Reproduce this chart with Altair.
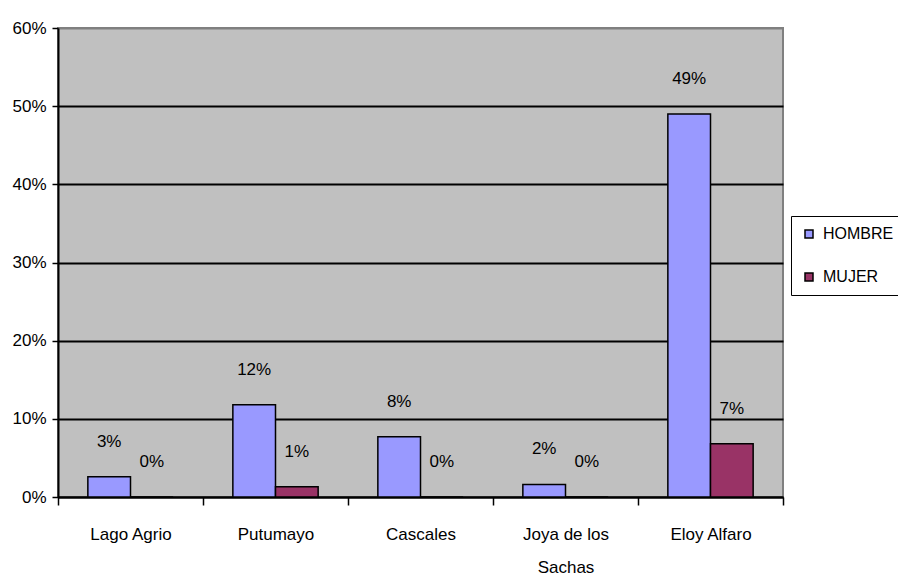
import altair as alt
import pandas as pd

categories = ["Lago Agrio", "Putumayo", "Cascales", "Joya de los Sachas", "Eloy Alfaro"]
series = ["HOMBRE", "MUJER"]
hombre = [0.026, 0.118, 0.077, 0.016, 0.490]
mujer = [0.0, 0.013, 0.0, 0.0, 0.068]
colors = ["#9999FF", "#993366"]
y_ticks = [0, 0.1, 0.2, 0.3, 0.4, 0.5, 0.6]

rows = []
for c, h, m in zip(categories, hombre, mujer):
    rows.append({"cat": c, "serie": "HOMBRE", "val": h})
    rows.append({"cat": c, "serie": "MUJER", "val": m})
df = pd.DataFrame(rows)

FONT = "Liberation Sans, Arial, sans-serif"
FS = 17

x_enc = alt.X(
    "cat:N",
    sort=categories,
    scale=alt.Scale(paddingInner=0, paddingOuter=0),
    axis=alt.Axis(
        title=None,
        labelAngle=0,
        tickBand="extent",
        tickSize=8,
        tickColor="black",
        tickWidth=1.5,
        domainColor="black",
        domainWidth=2,
        labelPadding=21,
        labelFont=FONT,
        labelFontSize=FS,
        labelColor="black",
        labelLineHeight=33,
        labelExpr="datum.label == 'Joya de los Sachas' ? ['Joya de los', 'Sachas'] : datum.label",
    ),
)
xoff = alt.XOffset("serie:N", sort=series, scale=alt.Scale(paddingInner=0, paddingOuter=0.7))
y_enc = alt.Y(
    "val:Q",
    scale=alt.Scale(domain=[0, 0.6], nice=False),
    axis=alt.Axis(
        title=None,
        values=y_ticks,
        format=".0%",
        tickSize=6,
        tickColor="black",
        tickWidth=1.5,
        domainColor="black",
        domainWidth=2,
        gridColor={"condition": {"test": "datum.value >= 0.59", "value": "#808080"}, "value": "black"},
        gridWidth=2,
        gridOpacity=1,
        labelPadding=6,
        labelFont=FONT,
        labelFontSize=FS,
        labelColor="black",
    ),
)

bars = alt.Chart(df).mark_bar(stroke="black", strokeWidth=1.5).encode(
    x=x_enc,
    xOffset=xoff,
    y=y_enc,
    color=alt.Color(
        "serie:N",
        sort=series,
        scale=alt.Scale(domain=series, range=colors),
        legend=alt.Legend(
            title=None,
            orient="none",
            legendX=733,
            legendY=188,
            direction="vertical",
            symbolType="square",
            symbolSize=64,
            symbolStrokeColor="black",
            symbolStrokeWidth=1.5,
            labelFont=FONT,
            labelFontSize=16,
            labelColor="black",
            labelOffset=6,
            rowPadding=27,
            padding=10,
            strokeColor="black",
            fillColor="white",
        ),
    ),
)

labels = alt.Chart(df).mark_text(
    dy=-35, baseline="middle", font=FONT, fontSize=FS, color="black"
).encode(
    x=alt.X("cat:N", sort=categories),
    xOffset=alt.XOffset("serie:N", sort=series),
    y=alt.Y("val:Q"),
    text=alt.Text("val:Q", format=".0%"),
)

chart = (
    alt.layer(bars, labels)
    .properties(
        width=725,
        height=469,
        autosize=alt.AutoSizeParams(type="none"),
        padding={"left": 50, "top": 20, "right": 115, "bottom": 80},
        view=alt.ViewBackground(fill="#C0C0C0", stroke="#808080", strokeWidth=2),
    )
    .configure(background="white")
)

chart.save("out.html", embed_options={"renderer": "svg", "actions": False})
